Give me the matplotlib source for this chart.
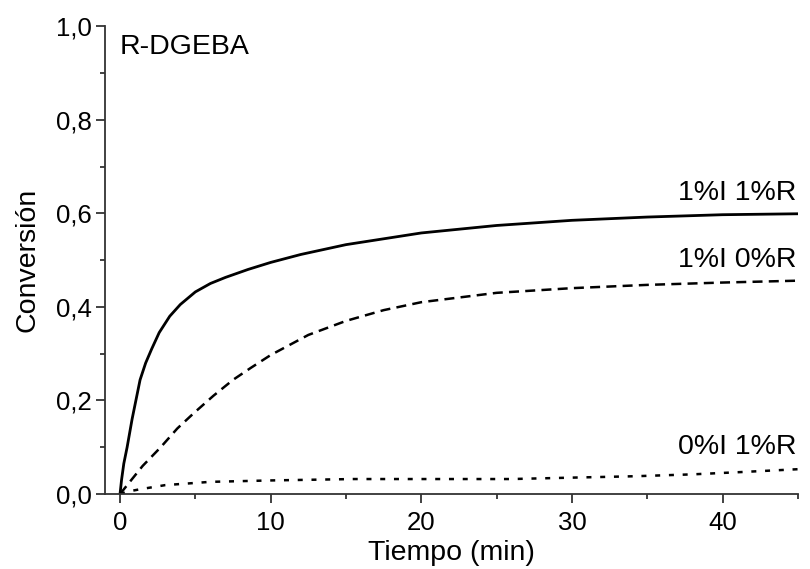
import matplotlib.pyplot as plt
from matplotlib.ticker import MultipleLocator, FuncFormatter

plt.rcParams['font.family'] = ['Liberation Sans', 'DejaVu Sans']

# 1%I 1%R
t_a = [0, 0.1, 0.25, 0.47, 0.8, 1.33, 1.7, 2.1, 2.6, 3.3, 4, 5, 6, 7, 8.5, 10, 12, 15, 20, 25, 30, 35, 40, 45]
c_a = [0, 0.03, 0.065, 0.10, 0.16, 0.244, 0.28, 0.31, 0.345, 0.38, 0.405, 0.432, 0.45, 0.463, 0.48, 0.495, 0.512, 0.533, 0.558, 0.574, 0.585, 0.592, 0.597, 0.599]

# 1%I 0%R
t_b = [0, 0.5, 1.5, 2.7, 3.8, 4.9, 6.2, 7.5, 8.7, 10, 12.5, 15, 17.5, 20, 25, 30, 35, 40, 45]
c_b = [0, 0.02, 0.06, 0.10, 0.14, 0.173, 0.21, 0.244, 0.27, 0.297, 0.34, 0.37, 0.393, 0.41, 0.43, 0.44, 0.447, 0.452, 0.456]

# 0%I 1%R
t_c = [0, 0.5, 1.3, 3, 6, 10, 15.5, 20, 26, 30, 34.2, 38, 41.3, 45]
c_c = [0, 0.005, 0.01, 0.019, 0.026, 0.029, 0.032, 0.032, 0.032, 0.035, 0.038, 0.042, 0.047, 0.053]

labels = ['1%I 1%R', '1%I 0%R', '0%I 1%R']
label_y = [0.643, 0.50, 0.10]

fig = plt.figure(figsize=(8.1, 5.69), dpi=100)
ax = fig.add_axes([0.1296, 0.1318, 0.8554, 0.8222])

ax.plot(t_a, c_a, color='black', lw=2.0)
ax.plot(t_b, c_b, color='black', lw=1.8, dashes=(4, 2.5))
ax.plot(t_c, c_c, color='black', lw=1.8, dashes=(2, 3.5))

for lab, ly in zip(labels, label_y):
    ax.text(44.9, ly, lab, ha='right', va='center', fontsize=20.5)
ax.text(0.021, 0.955, 'R-DGEBA', transform=ax.transAxes, ha='left', va='center', fontsize=20.5)

ax.set_xlim(-1, 45)
ax.set_ylim(0, 1)
ax.xaxis.set_major_locator(MultipleLocator(10))
ax.xaxis.set_minor_locator(MultipleLocator(5))
ax.yaxis.set_major_locator(MultipleLocator(0.2))
ax.yaxis.set_minor_locator(MultipleLocator(0.1))
ax.yaxis.set_major_formatter(FuncFormatter(lambda v, p: f'{v:.1f}'.replace('.', ',')))
ax.spines['top'].set_visible(False)
ax.spines['right'].set_visible(False)
for s in ['left', 'bottom']:
    ax.spines[s].set_linewidth(1.3)
    ax.spines[s].set_color('#333333')
ax.tick_params(which='both', direction='out', width=1.3, color='#333333', labelsize=18.5, pad=3)
ax.tick_params(axis='x', which='major', pad=6)
ax.tick_params(which='major', length=6.5)
ax.tick_params(which='minor', length=3.6)
ax.set_xlabel('Tiempo (min)', fontsize=20.5, labelpad=3)
ax.set_ylabel('Conversión', fontsize=20.5, labelpad=11)

fig.savefig('out.png', dpi=100)
